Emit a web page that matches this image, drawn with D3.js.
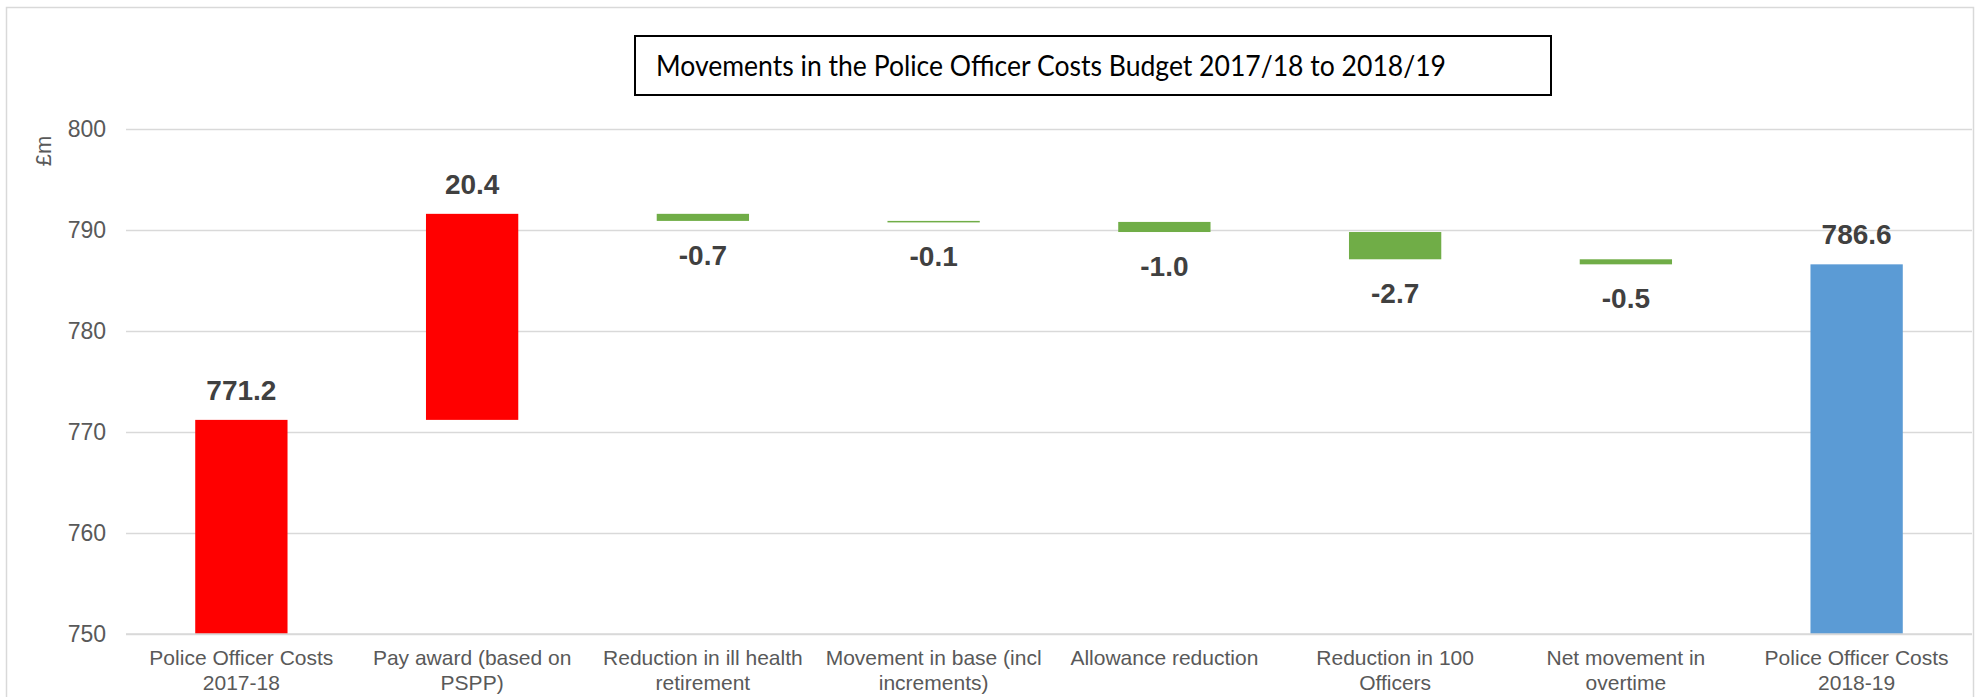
<!DOCTYPE html>
<html lang="en">
  <head>
    <title>Police Officer Costs Budget</title>
    <meta charset="utf-8">
    <script src="https://d3js.org/d3.v7.min.js"></script>
    <style>
      body {
        margin: 0;
        background: #fff;
      }
      svg text {
        font-family: "Liberation Sans", Arial, sans-serif;
      }
    </style>
  </head>
  <body>
    <div id="main"></div>
    <script>
      var categories = [
        "Police Officer Costs\n2017-18",
        "Pay award (based on\nPSPP)",
        "Reduction in ill health\nretirement",
        "Movement in base (incl\nincrements)",
        "Allowance reduction",
        "Reduction in 100\nOfficers",
        "Net movement in\novertime",
        "Police Officer Costs\n2018-19"
      ];
      var values = [771.2, 20.4, -0.7, -0.1, -1.0, -2.7, -0.5, 786.6];
      var kinds = ["start", "up", "down", "down", "down", "down", "down", "end"];
      var yTicks = [750, 760, 770, 780, 790, 800];
      var title = "Movements in the Police Officer Costs Budget 2017/18 to 2018/19";

      var width = 1980, height = 697;
      var color = {start: "#ff0000", up: "#ff0000", down: "#70ad47", end: "#5b9bd5"};

      var svg = d3.select("#main").append("svg")
        .attr("width", width)
        .attr("height", height);

      // chart border
      svg.append("rect")
        .attr("x", 6.5).attr("y", 7.5)
        .attr("width", 1967).attr("height", 720)
        .attr("fill", "none")
        .attr("stroke", "#d9d9d9")
        .attr("stroke-width", 1.5);

      var x = d3.scaleBand().domain(categories).range([126, 1972]).paddingInner(0.6).paddingOuter(0.3);
      var y = d3.scaleLinear().domain([750, 800]).range([634, 129]);

      // build waterfall steps
      var running = 0;
      var steps = values.map(function(v, i) {
        var k = kinds[i], lo, hi;
        if (k == "start" || k == "end") { lo = 750; hi = v; running = v; }
        else { lo = Math.min(running, running + v); hi = Math.max(running, running + v); running += v; }
        return {cat: categories[i], value: v, kind: k, lo: lo, hi: hi};
      });

      // gridlines + y labels
      var yAxis = svg.append("g")
        .attr("transform", "translate(126,0)")
        .call(d3.axisLeft(y).tickValues(yTicks).tickSize(-1846).tickPadding(20));
      yAxis.select(".domain").remove();
      yAxis.selectAll("line").attr("stroke", "#d9d9d9").attr("stroke-width", 1.5);
      yAxis.selectAll("text")
        .attr("fill", "#595959")
        .style("font-size", "23px");

      svg.append("text")
        .attr("transform", "translate(51,151) rotate(-90)")
        .attr("text-anchor", "middle")
        .attr("fill", "#595959")
        .style("font-size", "22px")
        .text("£m");

      // bars
      svg.selectAll(".bar").data(steps).enter().append("rect")
        .attr("class", "bar")
        .attr("x", function(d) { return x(d.cat); })
        .attr("y", function(d) { return y(d.hi); })
        .attr("width", x.bandwidth())
        .attr("height", function(d) { return Math.max(1.5, y(d.lo) - y(d.hi)); })
        .attr("fill", function(d) { return color[d.kind]; });

      // baseline drawn over bars
      svg.append("line")
        .attr("x1", 126).attr("x2", 1972)
        .attr("y1", y(750)).attr("y2", y(750))
        .attr("stroke", "#d9d9d9").attr("stroke-width", 1.5);

      // value labels
      svg.selectAll(".lbl").data(steps).enter().append("text")
        .attr("class", "lbl")
        .attr("x", function(d) { return x(d.cat) + x.bandwidth() / 2; })
        .attr("y", function(d) { return d.kind == "down" ? y(d.lo) + 44 : y(d.hi) - 20; })
        .attr("text-anchor", "middle")
        .attr("fill", "#404040")
        .style("font-size", "28px")
        .style("font-weight", "bold")
        .text(function(d) { return d.value.toFixed(1); });

      // category labels
      var xl = svg.selectAll(".xl").data(categories).enter().append("text")
        .attr("class", "xl")
        .attr("text-anchor", "middle")
        .attr("fill", "#595959")
        .style("font-size", "21px");
      xl.selectAll("tspan").data(function(d) {
          return d.split("\n").map(function(s) { return {cat: d, s: s}; });
        }).enter().append("tspan")
        .attr("x", function(d) { return x(d.cat) + x.bandwidth() / 2; })
        .attr("y", function(d, i) { return 665 + i * 25; })
        .text(function(d) { return d.s; });

      // title box
      svg.append("rect")
        .attr("x", 635).attr("y", 36)
        .attr("width", 916).attr("height", 59)
        .attr("fill", "#fff")
        .attr("stroke", "#000")
        .attr("stroke-width", 2);
      svg.append("text")
        .attr("x", 656).attr("y", 76)
        .attr("textLength", 790)
        .attr("lengthAdjust", "spacingAndGlyphs")
        .style("font-family", "Lato, 'Open Sans', sans-serif")
        .style("font-size", "28px")
        .attr("fill", "#000")
        .text(title);
    </script>
  </body>
</html>
